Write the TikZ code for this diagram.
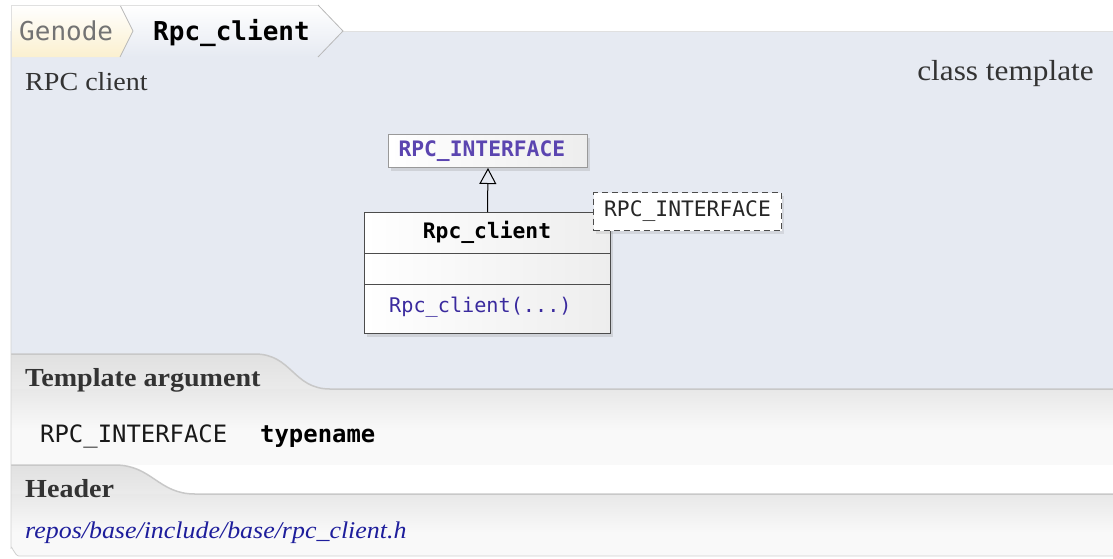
\documentclass[tikz,border=0pt]{standalone}
\usepackage{fontspec}
\setmainfont{Liberation Serif}[FakeStretch=1.08]
\setmonofont{DejaVu Sans Mono}
\usetikzlibrary{shadows,arrows.meta}
\definecolor{panelblue}{HTML}{E6EAF2}
\definecolor{tabline}{HTML}{C8C8C8}
\definecolor{ifacecol}{HTML}{5B45B0}
\definecolor{methcol}{HTML}{3A2A9E}
\definecolor{linkcol}{HTML}{1E1E9C}
\definecolor{txtcol}{HTML}{333333}
\definecolor{cream}{HTML}{FBF0CF}
\tikzset{
  umlbox/.style={draw=#1, line width=1pt, left color=white, right color=black!7,
    drop shadow={opacity=0.22, shadow xshift=2pt, shadow yshift=-3pt}},
  monofont/.style={font=\ttfamily\fontsize{21.3}{24}\selectfont},
  serifbig/.style={font=\fontsize{26}{30}\selectfont, text=txtcol, inner sep=0pt},
}
\begin{document}
\begin{tikzpicture}[x=1pt,y=-1pt]
\useasboundingbox (0,0) rectangle (1113,558);
\begin{scope}
\clip (11,31) -- (1113,31) -- (1113,556) -- (19,556) to[out=180,in=90] (11,548) -- cycle;
% main blue panel
\fill[panelblue] (11,31) rectangle (1113,389);
% template argument section
\shade[top color=black!12, bottom color=black!8]
  (11,354) -- (255,354) .. controls (292,354) and (293,389) .. (330,389)
  -- (11,389) -- cycle;
\fill[black!2.5] (11,389) rectangle (1113,465);
\shade[top color=black!9, bottom color=black!2.5] (11,389) rectangle (1113,430);
\draw[tabline, line width=1.5pt] (11,354) -- (255,354) .. controls (292,354) and (293,389) .. (330,389) -- (1113,389);
% header section
\shade[top color=black!12, bottom color=black!8]
  (11,465) -- (115,465) .. controls (152,465) and (158,494) .. (195,494)
  -- (11,494) -- cycle;
\fill[black!2.5] (11,494) rectangle (1113,558);
\shade[top color=black!9, bottom color=black!2.5] (11,494) rectangle (1113,532);
\draw[tabline, line width=1.5pt] (11,465) -- (115,465) .. controls (152,465) and (158,494) .. (195,494) -- (1113,494);
\end{scope}
\draw[black!18, line width=0.8pt] (11,31) -- (11,548) to[out=90,in=180] (19,556) -- (1113,556);
\draw[black!12, line width=0.8pt] (343,31) -- (1113,31);
% top tabs
\shade[top color=white, bottom color=panelblue]
  (120,5) -- (318,5) -- (343,31) -- (318,57) -- (120,57) -- (133,31) -- cycle;
\shade[top color=white, bottom color=cream]
  (11,5) -- (120,5) -- (133,31) -- (120,57) -- (11,57) -- cycle;
\draw[black!28, line width=0.8pt] (120,5) -- (133,31) -- (120,57);
\draw[black!28, line width=0.8pt] (318,5) -- (343,31) -- (318,57);
\draw[black!12, line width=0.8pt] (11,57) -- (11,5) -- (318,5);
\node[anchor=base west, inner sep=0pt, text=black!55, font=\ttfamily\fontsize{26}{30}\selectfont] (crumb) at (19,40) {Genode};
\node[anchor=base west, inner sep=0pt, font=\ttfamily\bfseries\fontsize{26}{30}\selectfont] (title) at (153,40) {Rpc\_client};
% headings
\node[serifbig, anchor=base west] (brief) at (25,90) {RPC client};
\node[serifbig, anchor=base east, font=\fontsize{29}{30}\selectfont] (kind) at (1094,80) {class template};
% diagram
\node[umlbox=black!40, anchor=north west, minimum width=199, minimum height=33,
  text width=179, align=left, inner xsep=10pt, monofont, font=\ttfamily\bfseries\fontsize{21.3}{24}\selectfont, text=ifacecol] (iface) at (388,134) {RPC\_INTERFACE};
\node[umlbox=black!70, anchor=north west, minimum width=246, minimum height=121] (cls) at (364,212) {};
\coordinate (d1) at (364,253);
\coordinate (d1e) at (610,253);
\coordinate (d2) at (364,284);
\coordinate (d2e) at (610,284);
\draw[black!70, line width=1pt] (d1) -- (d1e);
\draw[black!70, line width=1pt] (d2) -- (d2e);
\node[font=\ttfamily\bfseries\fontsize{21.3}{24}\selectfont] (clsname) at (487,232) {Rpc\_client};
\node[anchor=west, inner sep=0pt, text=methcol, font=\ttfamily\fontsize{20.2}{24}\selectfont] (meth) at (389,307) {Rpc\_client(...)};
\draw[line width=1pt, -{Triangle[open, width=17pt, length=16pt]}] (cls.north) -- (iface.south);
\node[draw=black!70, dash pattern=on 6pt off 4pt, line width=1pt, fill=white, anchor=north west,
  minimum width=188, minimum height=38, monofont, text=black!85,
  drop shadow={opacity=0.18, shadow xshift=2pt, shadow yshift=-3pt}] (tpl) at (593,192) {RPC\_INTERFACE};
% sections
\node[serifbig, anchor=base west, font=\bfseries\fontsize{26}{30}\selectfont] (targh) at (25,386) {Template argument};
\node[anchor=base west, inner sep=0pt, text=black!90, font=\ttfamily\fontsize{23.9}{28}\selectfont] (targ) at (40,442) {RPC\_INTERFACE};
\node[anchor=base west, inner sep=0pt, font=\ttfamily\bfseries\fontsize{23.9}{28}\selectfont] (targt) at (260,442) {typename};
\node[serifbig, anchor=base west, font=\bfseries\fontsize{26}{30}\selectfont] (hdrh) at (25,497) {Header};
\node[anchor=base west, inner sep=0pt, text=linkcol, font=\itshape\fontsize{24}{30}\selectfont] (hdr) at (25,538) {repos/base/include/base/rpc\_client.h};
\end{tikzpicture}
\end{document}
